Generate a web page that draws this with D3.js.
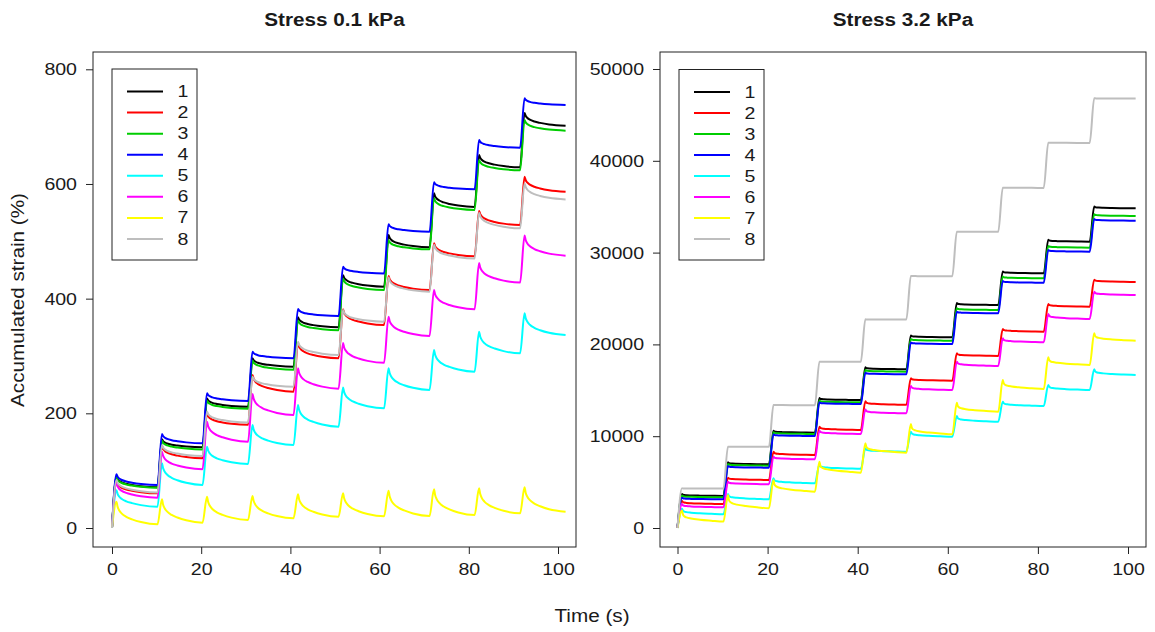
<!DOCTYPE html>
<html>
<head>
<meta charset="utf-8">
<script src="https://cdn.jsdelivr.net/npm/d3@7"></script>
<style>
  body { margin: 0; background: #fff; }
  svg { display: block; }
  text { font-family: "Liberation Sans", Arial, sans-serif; fill: #1a1a1a; }
</style>
</head>
<body>
<svg id="chart" width="1155" height="632"></svg>
<script>
// ---- Data -------------------------------------------------------------
const seriesNames  = ["1", "2", "3", "4", "5", "6", "7", "8"];
const seriesColors = ["#000000", "#FF0000", "#00CD00", "#0000FF", "#00FFFF", "#FF00FF", "#FFFF00", "#BEBEBE"];

// load cycles: time the stress is applied, time of the peak strain, end of test (s)
const loadOnset = [0, 10.2, 20.3, 30.5, 40.7, 50.8, 61.0, 71.2, 81.3, 91.5];
const peakTime  = [1.0, 11.2, 21.3, 31.5, 41.7, 51.8, 62.0, 72.2, 82.3, 92.5];
const testEnd   = 101.7;

// Stress 0.1 kPa: strain (%) at each cycle peak and at the end of each cycle
const lowPeaks = [
  [89.5, 154.7, 226, 296, 367.5, 441, 511, 583.7, 650.5, 724],
  [80.8, 143, 199, 266.8, 322, 381.4, 439.5, 496.5, 553, 612.7],
  [88, 152, 222, 292, 362, 435, 502, 575, 641.8, 711.5],
  [93.6, 164, 235, 307.5, 382, 455.7, 529.7, 602.9, 676.6, 749.4],
  [66, 112.8, 141.8, 179.6, 214.5, 245, 278.5, 310.4, 342.4, 374.4],
  [78, 133, 185.4, 233.7, 278.5, 322.5, 368.5, 415, 462, 510],
  [46, 50, 54.6, 56, 58.7, 60.5, 65, 67.5, 69.2, 71],
  [83.7, 144.7, 203, 264, 325, 380, 437, 494, 550, 601]
];
const lowEnds = [
  [71, 140.7, 211.5, 281.3, 350, 420.8, 489.5, 560, 629, 701.6],
  [60.5, 121.5, 180, 237.7, 296, 354, 415, 474, 528.4, 586.5],
  [70, 137, 208, 276, 345, 415, 486, 554.6, 624, 693],
  [75, 147.7, 221.5, 296, 369.7, 444, 516.7, 590.7, 663.2, 737.7],
  [37, 75, 111.6, 144.7, 176.7, 208.7, 240.7, 272.6, 304.7, 336.6],
  [52.9, 102.3, 150.5, 197, 243, 288, 334.8, 381.5, 428, 475],
  [6.4, 9.3, 14, 17, 19.8, 20.5, 21, 22.7, 25.6, 28.5],
  [62, 125.6, 184, 246.4, 301.7, 359.8, 412, 470, 522.6, 573]
];

// Stress 3.2 kPa: strain (%) at each cycle peak and at the end of each cycle
const highPeaks = [
  [3700, 7150, 10600, 14150, 17500, 20980, 24500, 27950, 31400, 35030],
  [2940, 5480, 8310, 11040, 13800, 16310, 19030, 21680, 24400, 27050],
  [3530, 6980, 10430, 13880, 17220, 20590, 23940, 27390, 30730, 34180],
  [3300, 6750, 10200, 13690, 16920, 20220, 23570, 26900, 30280, 33650],
  [2100, 3700, 5410, 6900, 8680, 10490, 12200, 13760, 15580, 17290],
  [2610, 5050, 7770, 10600, 12900, 15470, 18120, 20660, 23310, 25740],
  [1900, 3590, 5230, 7220, 9230, 11330, 13650, 16120, 18590, 21210],
  [4320, 8860, 13400, 18120, 22730, 27450, 32280, 37070, 41970, 46810]
];
const highEnds = [
  [3490, 6940, 10380, 13940, 17290, 20770, 24290, 27740, 31190, 34820],
  [2610, 5230, 7950, 10680, 13420, 16050, 18740, 21390, 24110, 26800],
  [3340, 6790, 10240, 13690, 17030, 20400, 23750, 27200, 30540, 33990],
  [3120, 6570, 10020, 13510, 16740, 20040, 23390, 26720, 30100, 33470],
  [1500, 3120, 4870, 6450, 8310, 9950, 11580, 13290, 15030, 16670],
  [2250, 4760, 7480, 10240, 12490, 15030, 17650, 20230, 22770, 25380],
  [700, 2140, 3960, 6030, 8200, 10200, 12670, 15140, 17760, 20400],
  [4300, 8840, 13380, 18100, 22710, 27430, 32260, 37050, 41950, 46790]
];

// shape of the recovery after each peak: seconds after the peak, and the share
// of the peak-to-end drop still remaining at that moment
const lowRelaxTime  = [0, 0.25, 0.6, 1.2, 2.2, 3.5, 5.5, 9.2];
const lowRelaxLeft  = [1, 0.78, 0.62, 0.47, 0.33, 0.22, 0.1, 0];
const highRelaxTime = [0, 0.2, 0.5, 1.0, 2.0, 4.0, 6.5, 9.2];
const highRelaxLeft = [1, 0.65, 0.48, 0.38, 0.28, 0.17, 0.08, 0];

const xTicks     = [0, 20, 40, 60, 80, 100];
const lowYTicks  = [0, 200, 400, 600, 800];
const highYTicks = [0, 10000, 20000, 30000, 40000, 50000];

// ---- Layout -----------------------------------------------------------
const svg = d3.select("#chart");
const FONT = '"Liberation Sans", Arial, sans-serif';
const WIDEN = 1.15;   // glyphs of this figure run a little wider than Arial

// stretch a text along its own direction, keeping its anchor in place
function widen(sel) {
  sel.each(function () {
    const w = this.getComputedTextLength();
    if (w > 0) {
      this.setAttribute("textLength", w * WIDEN);
      this.setAttribute("lengthAdjust", "spacingAndGlyphs");
    }
  });
}

const panels = [
  { title: "Stress 0.1 kPa", peaks: lowPeaks, ends: lowEnds, yTicks: lowYTicks,
    relaxT: lowRelaxTime, relaxL: lowRelaxLeft,
    box: { x0: 93, x1: 576, y0: 52, y1: 547 },
    xRange: [112, 558], yDomain: [0, 800], yRange: [528, 69.3],
    legend: { x: 112, y: 69, w: 85, h: 191 } },
  { title: "Stress 3.2 kPa", peaks: highPeaks, ends: highEnds, yTicks: highYTicks,
    relaxT: highRelaxTime, relaxL: highRelaxLeft,
    box: { x0: 660, x1: 1146, y0: 52, y1: 547 },
    xRange: [677.5, 1128], yDomain: [0, 50000], yRange: [528, 69],
    legend: { x: 679, y: 69.5, w: 85, h: 190.5 } }
];

function seriesPoints(p, s) {
  const pts = [[0, 0]];
  loadOnset.forEach((t0, c) => {
    const peak = p.peaks[s][c], end = p.ends[s][c];
    if (c > 0) pts.push([t0, p.ends[s][c - 1]]);
    const stop = c < loadOnset.length - 1 ? loadOnset[c + 1] : testEnd;
    const span = stop - peakTime[c];
    const last = p.relaxT[p.relaxT.length - 1];
    p.relaxT.forEach((dt, i) => {
      pts.push([peakTime[c] + dt * span / last, end + (peak - end) * p.relaxL[i]]);
    });
  });
  return pts;
}

panels.forEach(p => {
  const g = svg.append("g");
  const x = d3.scaleLinear().domain([0, 100]).range(p.xRange);
  const y = d3.scaleLinear().domain(p.yDomain).range(p.yRange);
  const b = p.box;

  // title
  g.append("text")
    .attr("x", (b.x0 + b.x1) / 2).attr("y", 20)
    .attr("text-anchor", "middle").attr("dominant-baseline", "central")
    .style("font-weight", "bold").style("font-size", "18px")
    .text(p.title)
    .call(widen);

  // series
  const clipId = "clip" + b.x0;
  g.append("clipPath").attr("id", clipId)
    .append("rect").attr("x", b.x0).attr("y", b.y0)
    .attr("width", b.x1 - b.x0).attr("height", b.y1 - b.y0);
  const line = d3.line().x(d => x(d[0])).y(d => y(d[1])).curve(d3.curveMonotoneX);
  const lines = g.append("g").attr("clip-path", `url(#${clipId})`);
  seriesNames.forEach((name, s) => {
    lines.append("path")
      .attr("d", line(seriesPoints(p, s)))
      .attr("fill", "none")
      .attr("stroke", seriesColors[s])
      .attr("stroke-width", 2)
      .attr("stroke-linejoin", "round");
  });

  // frame
  g.append("rect")
    .attr("x", b.x0).attr("y", b.y0)
    .attr("width", b.x1 - b.x0).attr("height", b.y1 - b.y0)
    .attr("fill", "none").attr("stroke", "#222").attr("stroke-width", 1);

  // axes
  const styleAxis = a => {
    a.select(".domain").remove();
    a.selectAll("line").attr("stroke", "#222");
    a.selectAll("text").style("font-size", "17px").attr("fill", "#1a1a1a")
      .style("font-family", FONT).call(widen);
  };
  const xAxis = d3.axisBottom(x).tickValues(xTicks).tickSize(7).tickPadding(9)
    .tickFormat(d3.format("d"));
  g.append("g").attr("transform", `translate(0,${b.y1})`).call(xAxis).call(styleAxis);

  const yAxis = d3.axisLeft(y).tickValues(p.yTicks).tickSize(7).tickPadding(9)
    .tickFormat(d3.format("d"));
  g.append("g").attr("transform", `translate(${b.x0},0)`).call(yAxis).call(styleAxis);

  // legend
  const L = p.legend;
  const lg = g.append("g");
  lg.append("rect").attr("x", L.x).attr("y", L.y).attr("width", L.w).attr("height", L.h)
    .attr("fill", "#fff").attr("stroke", "#222").attr("stroke-width", 1);
  const rowY = d3.scalePoint().domain(seriesNames).range([L.y + 22.5, L.y + L.h - 21]);
  seriesNames.forEach((name, s) => {
    lg.append("line")
      .attr("x1", L.x + 15).attr("x2", L.x + 51)
      .attr("y1", rowY(name)).attr("y2", rowY(name))
      .attr("stroke", seriesColors[s]).attr("stroke-width", 2);
    lg.append("text")
      .attr("x", L.x + 71).attr("y", rowY(name))
      .attr("text-anchor", "middle").attr("dominant-baseline", "central")
      .style("font-size", "17px")
      .text(name)
      .call(widen);
  });
});

// shared axis titles
svg.append("text")
  .attr("x", 592).attr("y", 616)
  .attr("text-anchor", "middle").attr("dominant-baseline", "central")
  .style("font-size", "18px")
  .text("Time (s)")
  .call(widen);
svg.append("text")
  .attr("transform", "translate(18,300) rotate(-90)")
  .attr("text-anchor", "middle").attr("dominant-baseline", "central")
  .style("font-size", "18px")
  .text("Accumulated strain (%)")
  .call(widen);
</script>
</body>
</html>
